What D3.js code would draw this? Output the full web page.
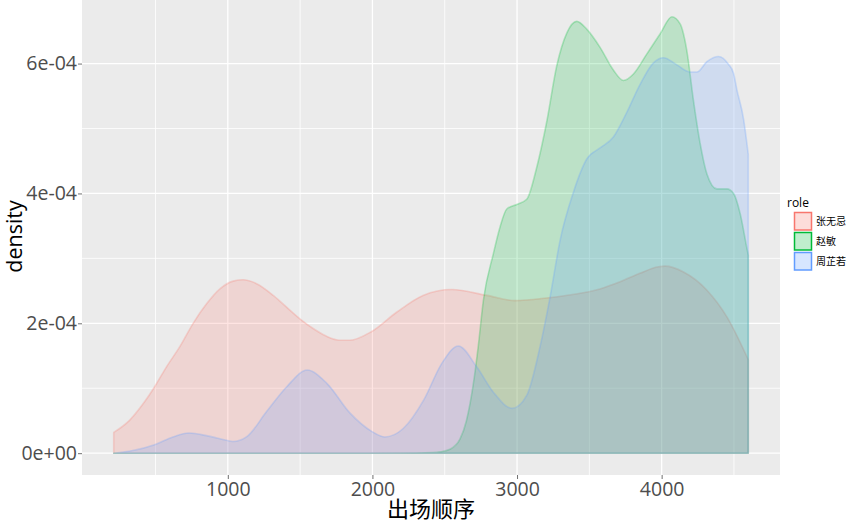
<!DOCTYPE html>
<html>
<head>
<meta charset="utf-8">
<script src="https://cdn.jsdelivr.net/npm/d3@7"></script>
<style>
  html, body { margin: 0; padding: 0; background: #fff; }
  svg { display: block; font-family: "Open Sans", "Noto Sans CJK SC", sans-serif; }
</style>
</head>
<body>
<svg id="chart" width="865" height="524"></svg>
<script>
// ---- data (densities) ----
const roles = ["张无忌", "赵敏", "周芷若"];
const colors = ["#F8766D", "#00BA38", "#619CFF"];

const zwjX = [211, 322, 414, 493, 576, 668, 760, 853, 945, 1037, 1106, 1199, 1314, 1406, 1498, 1590, 1683, 1775, 1844, 1992, 2167, 2350, 2548, 2790, 2986, 3205, 3457, 3574, 3713, 3850, 3978, 4024, 4151, 4313, 4451, 4599];
const zwjY = [0.32e-4, 0.51e-4, 0.76e-4, 1.02e-4, 1.33e-4, 1.64e-4, 2.00e-4, 2.30e-4, 2.53e-4, 2.65e-4, 2.67e-4, 2.61e-4, 2.43e-4, 2.25e-4, 2.07e-4, 1.92e-4, 1.80e-4, 1.74e-4, 1.74e-4, 1.87e-4, 2.17e-4, 2.43e-4, 2.52e-4, 2.43e-4, 2.35e-4, 2.39e-4, 2.47e-4, 2.53e-4, 2.64e-4, 2.77e-4, 2.87e-4, 2.88e-4, 2.79e-4, 2.51e-4, 2.10e-4, 1.44e-4];

const zmX = [211, 1000, 2000, 2300, 2421, 2467, 2536, 2606, 2650, 2698, 2732, 2767, 2836, 2882, 2929, 2998, 3067, 3136, 3205, 3275, 3344, 3413, 3482, 3574, 3666, 3736, 3805, 3898, 3990, 4071, 4128, 4174, 4220, 4267, 4313, 4382, 4451, 4497, 4543, 4590, 4599];
const zmY = [0, 0, 0, 0.003e-4, 0.01e-4, 0.02e-4, 0.06e-4, 0.22e-4, 0.50e-4, 1.07e-4, 1.65e-4, 2.35e-4, 3.07e-4, 3.48e-4, 3.76e-4, 3.83e-4, 3.91e-4, 4.40e-4, 5.10e-4, 5.97e-4, 6.47e-4, 6.65e-4, 6.53e-4, 6.25e-4, 5.90e-4, 5.74e-4, 5.84e-4, 6.15e-4, 6.46e-4, 6.72e-4, 6.61e-4, 6.20e-4, 5.43e-4, 4.76e-4, 4.30e-4, 4.07e-4, 4.07e-4, 4.00e-4, 3.69e-4, 3.15e-4, 3.05e-4];

const zzrX = [211, 343, 493, 620, 732, 853, 991, 1035, 1129, 1268, 1406, 1549, 1683, 1844, 1992, 2087, 2213, 2355, 2479, 2594, 2721, 2836, 2966, 3067, 3159, 3228, 3298, 3390, 3482, 3574, 3666, 3759, 3851, 3943, 4013, 4105, 4197, 4244, 4313, 4393, 4462, 4497, 4520, 4566, 4599];
const zzrY = [0.00e-4, 0.04e-4, 0.13e-4, 0.25e-4, 0.31e-4, 0.27e-4, 0.20e-4, 0.18e-4, 0.25e-4, 0.64e-4, 1.02e-4, 1.28e-4, 1.08e-4, 0.62e-4, 0.34e-4, 0.25e-4, 0.38e-4, 0.82e-4, 1.38e-4, 1.65e-4, 1.33e-4, 0.94e-4, 0.69e-4, 0.89e-4, 1.64e-4, 2.40e-4, 3.28e-4, 4.02e-4, 4.53e-4, 4.70e-4, 4.87e-4, 5.25e-4, 5.68e-4, 6.01e-4, 6.09e-4, 5.98e-4, 5.87e-4, 5.87e-4, 6.03e-4, 6.11e-4, 5.99e-4, 5.85e-4, 5.60e-4, 5.15e-4, 4.60e-4];

const xTicks = [1000, 2000, 3000, 4000];
const xMinor = [500, 1500, 2500, 3500, 4500];
const yTicks = [0, 2e-4, 4e-4, 6e-4];
const yTickLabels = ["0e+00", "2e-04", "4e-04", "6e-04"];
const yMinor = [1e-4, 3e-4, 5e-4, 7e-4];
const xTitle = "出场顺序";
const yTitle = "density";
const legendTitle = "role";

// ---- layout ----
const svg = d3.select("#chart");
const panel = { left: 82, right: 780, top: -5, bottom: 475 };

const series = [
  { name: roles[0], color: colors[0], pts: zwjX.map((x, i) => [x, zwjY[i]]) },
  { name: roles[1], color: colors[1], pts: zmX.map((x, i) => [x, zmY[i]]) },
  { name: roles[2], color: colors[2], pts: zzrX.map((x, i) => [x, zzrY[i]]) }
];

const allX = [].concat(zwjX, zmX, zzrX);
const xMin = d3.min(allX), xMax = d3.max(allX);
const xPad = (xMax - xMin) * 0.05;
const yMaxV = d3.max([].concat(zwjY, zmY, zzrY));
const yPad = yMaxV * 0.05;

const x = d3.scaleLinear().domain([xMin - xPad, xMax + xPad]).range([panel.left, panel.right]);
const y = d3.scaleLinear().domain([-yPad, yMaxV + yPad]).range([panel.bottom, panel.top]);

// panel background
svg.append("rect")
  .attr("x", panel.left).attr("y", panel.top)
  .attr("width", panel.right - panel.left).attr("height", panel.bottom - panel.top)
  .attr("fill", "#EBEBEB");

svg.append("clipPath").attr("id", "pclip").append("rect")
  .attr("x", panel.left).attr("y", panel.top)
  .attr("width", panel.right - panel.left).attr("height", panel.bottom - panel.top);

const grid = svg.append("g").attr("clip-path", "url(#pclip)");
grid.selectAll(".xm").data(xMinor).join("line")
  .attr("x1", d => x(d)).attr("x2", d => x(d))
  .attr("y1", panel.top).attr("y2", panel.bottom)
  .attr("stroke", "#fff").attr("stroke-width", 0.8);
grid.selectAll(".ym").data(yMinor).join("line")
  .attr("y1", d => y(d)).attr("y2", d => y(d))
  .attr("x1", panel.left).attr("x2", panel.right)
  .attr("stroke", "#fff").attr("stroke-width", 0.8);
grid.selectAll(".xM").data(xTicks).join("line")
  .attr("x1", d => x(d)).attr("x2", d => x(d))
  .attr("y1", panel.top).attr("y2", panel.bottom)
  .attr("stroke", "#fff").attr("stroke-width", 1.3);
grid.selectAll(".yM").data(yTicks).join("line")
  .attr("y1", d => y(d)).attr("y2", d => y(d))
  .attr("x1", panel.left).attr("x2", panel.right)
  .attr("stroke", "#fff").attr("stroke-width", 1.3);

// density areas
const area = d3.area()
  .x(d => x(d[0]))
  .y0(y(0))
  .y1(d => y(d[1]))
  .curve(d3.curveMonotoneX);

const areas = svg.append("g").attr("clip-path", "url(#pclip)");
series.forEach(s => {
  areas.append("path")
    .attr("d", area(s.pts) + "Z")
    .attr("fill", s.color).attr("fill-opacity", 0.2)
    .attr("stroke", s.color).attr("stroke-opacity", 0.25)
    .attr("stroke-width", 1.6)
    .attr("stroke-linejoin", "round");
});

// axes
const xAxis = d3.axisBottom(x).tickValues(xTicks).tickSize(4).tickPadding(3).tickFormat(d3.format("d"));
const gx = svg.append("g").attr("transform", `translate(0,${panel.bottom})`).call(xAxis);
gx.select(".domain").remove();
gx.selectAll(".tick line").attr("stroke", "#333").attr("stroke-opacity", 0.7);
gx.selectAll(".tick text").attr("fill", "#4D4D4D").attr("font-size", 19.5)
  .attr("font-family", "'Open Sans', sans-serif");

const yAxis = d3.axisLeft(y).tickValues(yTicks).tickSize(4).tickPadding(1)
  .tickFormat((d, i) => yTickLabels[i]);
const gy = svg.append("g").attr("transform", `translate(${panel.left},0)`).call(yAxis);
gy.select(".domain").remove();
gy.selectAll(".tick line").attr("stroke", "#333").attr("stroke-opacity", 0.7);
gy.selectAll(".tick text").attr("fill", "#4D4D4D").attr("font-size", 19.5)
  .attr("font-family", "'Open Sans', sans-serif");

// titles
svg.append("text")
  .attr("x", (panel.left + panel.right) / 2).attr("y", 517)
  .attr("text-anchor", "middle")
  .attr("font-family", "'Noto Sans CJK SC', sans-serif")
  .attr("font-size", 22).attr("fill", "#000")
  .text(xTitle);

svg.append("text")
  .attr("transform", `translate(22,${(453 + 20) / 2}) rotate(-90)`)
  .attr("text-anchor", "middle")
  .attr("font-family", "'Open Sans', sans-serif")
  .attr("font-size", 21.5).attr("fill", "#000")
  .text(yTitle);

// legend
const lg = svg.append("g");
lg.append("text").attr("x", 787).attr("y", 207)
  .attr("font-size", 12).attr("fill", "#000")
  .attr("font-family", "'Open Sans', sans-serif")
  .text(legendTitle);
series.forEach((s, i) => {
  const yy = 212.5 + i * 20;
  lg.append("rect").attr("x", 794.5).attr("y", yy).attr("width", 17).attr("height", 17.5)
    .attr("fill", s.color).attr("fill-opacity", 0.25)
    .attr("stroke", s.color).attr("stroke-width", 1.5);
  lg.append("text").attr("x", 816).attr("y", yy + 12.5)
    .attr("font-size", 10).attr("fill", "#000")
    .attr("font-family", "'Noto Sans CJK SC', sans-serif")
    .text(s.name);
});
</script>
</body>
</html>
